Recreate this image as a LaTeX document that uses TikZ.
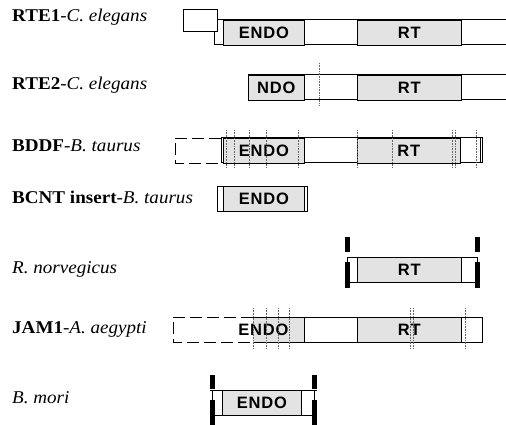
\documentclass[tikz,border=0pt]{standalone}
\usepackage{fontspec}
\setmainfont{Liberation Serif}[FakeStretch=1.06]
\newfontfamily\domfont{Liberation Sans}[LetterSpace=5]
\begin{document}
\begin{tikzpicture}[x=1pt,y=1pt,
  bar/.style={draw=black, line width=1pt},
  dashbar/.style={draw=black, line width=0.9pt, dash pattern=on 12pt off 5pt},
  dom/.style={draw=black, fill=gray!22, line width=0.8pt, inner sep=0pt, anchor=north west,
              minimum height=25pt, font=\domfont\fontsize{16.5}{16.5}\selectfont\bfseries},
  lab/.style={anchor=base west, inner sep=0pt, font=\fontsize{18}{18}\selectfont},
  dtext/.style={inner sep=0pt, font=\domfont\fontsize{16.5}{16.5}\selectfont\bfseries},
  dots/.style={draw=gray!80!black, line width=0.6pt, densely dotted},
  blk/.style={fill=black, draw=none}]
\useasboundingbox (0,-425) rectangle (506,0);

% ---- labels
\node[lab] (l1) at (12,-22)  {\textbf{RTE1}-\textit{C. elegans}};
\node[lab] (l2) at (12,-90)  {\textbf{RTE2}-\textit{C. elegans}};
\node[lab] (l3) at (12,-152) {\textbf{BDDF}-\textit{B. taurus}};
\node[lab] (l4) at (12,-204) {\textbf{BCNT insert}-\textit{B. taurus}};
\node[lab] (l5) at (12,-273) {\textit{R. norvegicus}};
\node[lab] (l6) at (12,-333) {\textbf{JAM1}-\textit{A. aegypti}};
\node[lab] (l7) at (12,-403) {\textit{B. mori}};

% ---- row 1: RTE1
\draw[bar] (506,-20) -- (214,-20) -- (214,-45) -- (506,-45);
\node[dom, minimum width=81pt] (e1) at (223,-20) {ENDO};
\node[dom, minimum width=104pt] (rt1) at (357,-20) {RT};
\node[draw=black, fill=white, line width=0.9pt, anchor=north west, inner sep=0pt,
      minimum width=34pt, minimum height=22pt] (b1) at (183,-9) {};

% ---- row 2: RTE2
\draw[bar] (506,-75) -- (248,-75) -- (248,-100) -- (506,-100);
\node[dom, minimum width=56pt] (e2) at (248,-75) {NDO};
\node[dom, minimum width=104pt] (rt2) at (357,-75) {RT};
\draw[dots] (319,-63) -- (319,-106);

% ---- row 3: BDDF
\draw[dashbar] (221,-138) -- (175,-138) -- (175,-163) -- (221,-163);
\draw[bar] (221,-138) rectangle (482,-163);
\node[dom, minimum width=81pt] (e3) at (223,-138) {ENDO};
\node[dom, minimum width=103pt] (rt3) at (357,-138) {RT};
\draw[bar] (480,-138) -- (480,-163);
\foreach \x in {226,234,249,266,298,357,392,452,455,476}
  \draw[dots] (\x,-130) -- (\x,-168);

% ---- row 4: BCNT insert
\draw[bar] (217,-186) rectangle (307,-211);
\node[dom, minimum width=81pt] (e4) at (223,-186) {ENDO};

% ---- row 5: R. norvegicus
\draw[bar] (347,-257) rectangle (477,-282);
\node[dom, minimum width=104pt] (rt5) at (357,-257) {RT};
\fill[blk] (344.5,-237) rectangle (349.5,-252);
\fill[blk] (344.5,-262) rectangle (349.5,-288);
\fill[blk] (474.5,-237) rectangle (479.5,-252);
\fill[blk] (474.5,-262) rectangle (479.5,-288);

% ---- row 6: JAM1
\draw[dashbar] (253,-317) -- (173,-317) -- (173,-342) -- (253,-342);
\fill[gray!22] (253,-317) rectangle (304,-342);
\draw[bar] (253,-317) -- (482,-317) -- (482,-342) -- (253,-342);
\draw[bar] (304,-317) -- (304,-342);
\node[dom, minimum width=104pt] (rt6) at (357,-317) {RT};
\node[dtext] (e6) at (263.5,-329.5) {ENDO};
\foreach \x in {253,266,278,289,410,413,465}
  \draw[dots] (\x,-308) -- (\x,-349);

% ---- row 7: B. mori
\draw[bar] (210,-390) -- (317,-390);
\draw[bar] (210,-415) -- (317,-415);
\draw[bar] (212,-390) -- (212,-415);
\draw[bar] (314,-390) -- (314,-415);
\node[dom, minimum width=79pt] (e7) at (222,-390) {ENDO};
\fill[blk] (209.5,-375) rectangle (214.5,-389);
\fill[blk] (209.5,-400) rectangle (214.5,-425);
\fill[blk] (311.5,-375) rectangle (316.5,-389);
\fill[blk] (311.5,-400) rectangle (316.5,-425);
\end{tikzpicture}
\end{document}
